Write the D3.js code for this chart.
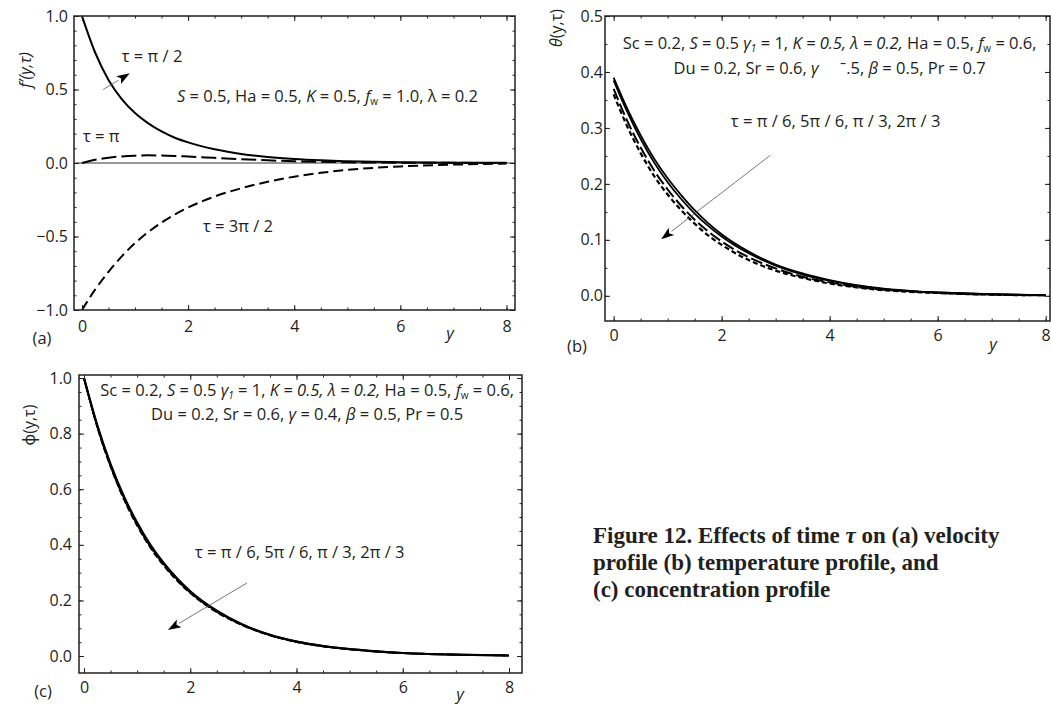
<!DOCTYPE html>
<html>
<head>
<meta charset="utf-8">
<script src="https://d3js.org/d3.v7.min.js"></script>
<style>
  body { margin: 0; background: #fff; }
  svg { display: block; }
  text { font-family: "Open Sans", "Noto Sans", sans-serif; fill: #231f20; }
  .caption { font-family: "Liberation Serif", "Times New Roman", serif; font-weight: bold; }
</style>
</head>
<body>
<svg id="chart" width="1051" height="704"></svg>
<script>
// y grid (similarity variable) shared by all profiles
const yGrid = [0, 0.25, 0.5, 0.75, 1, 1.25, 1.5, 1.75, 2, 2.5, 3, 3.5, 4, 4.5, 5, 5.5, 6, 7, 8];

// (a) velocity f'(y,tau)
const velHalfPi  = [1.0, 0.75, 0.565, 0.435, 0.34, 0.27, 0.215, 0.172, 0.14, 0.093, 0.062, 0.041, 0.027, 0.018, 0.012, 0.008, 0.005, 0.002, 0.001];
const velPi      = [0, 0.022, 0.036, 0.045, 0.05, 0.052, 0.051, 0.048, 0.044, 0.035, 0.026, 0.018, 0.012, 0.008, 0.005, 0.003, 0.002, 0.001, 0];
const vel3HalfPi = [-1.0, -0.86, -0.74, -0.635, -0.545, -0.47, -0.405, -0.35, -0.303, -0.228, -0.172, -0.128, -0.093, -0.067, -0.047, -0.033, -0.023, -0.011, -0.004];

// (b) temperature theta(y,tau)
const thetaPi6  = [0.39, 0.335, 0.287, 0.245, 0.21, 0.18, 0.153, 0.13, 0.11, 0.079, 0.056, 0.04, 0.028, 0.019, 0.013, 0.009, 0.006, 0.003, 0.001];
const theta5Pi6 = [0.385, 0.329, 0.28, 0.238, 0.203, 0.173, 0.147, 0.125, 0.106, 0.076, 0.054, 0.038, 0.027, 0.018, 0.012, 0.008, 0.006, 0.003, 0.001];
const thetaPi3  = [0.37, 0.313, 0.265, 0.224, 0.19, 0.161, 0.136, 0.115, 0.097, 0.069, 0.049, 0.034, 0.024, 0.016, 0.011, 0.008, 0.005, 0.002, 0.001];
const theta2Pi3 = [0.36, 0.303, 0.255, 0.214, 0.181, 0.153, 0.129, 0.108, 0.091, 0.064, 0.045, 0.032, 0.022, 0.015, 0.01, 0.007, 0.005, 0.002, 0.001];

// (c) concentration phi(y,tau)
const phiPi6  = [1.0, 0.83, 0.69, 0.575, 0.48, 0.4, 0.335, 0.28, 0.233, 0.163, 0.112, 0.076, 0.052, 0.036, 0.025, 0.017, 0.011, 0.005, 0.002];
const phi5Pi6 = [1.0, 0.825, 0.683, 0.567, 0.472, 0.393, 0.328, 0.274, 0.228, 0.159, 0.11, 0.075, 0.051, 0.035, 0.024, 0.016, 0.011, 0.005, 0.002];
const phiPi3  = [1.0, 0.828, 0.687, 0.571, 0.476, 0.397, 0.331, 0.277, 0.231, 0.161, 0.112, 0.076, 0.052, 0.036, 0.025, 0.017, 0.011, 0.005, 0.002];
const phi2Pi3 = [1.0, 0.822, 0.68, 0.563, 0.468, 0.389, 0.325, 0.271, 0.226, 0.157, 0.109, 0.074, 0.05, 0.034, 0.024, 0.016, 0.011, 0.005, 0.002];

// tick labels
const xTicks  = [0, 2, 4, 6, 8];
const yTicksA = [-1, -0.5, 0, 0.5, 1];
const yTicksB = [0, 0.1, 0.2, 0.3, 0.4, 0.5];
const yTicksC = [0, 0.2, 0.4, 0.6, 0.8, 1.0];

const captionLines = [
  [["Figure 12. Effects of time "], ["\u03c4", "i"], [" on (a) velocity"]],
  [["profile (b) temperature profile, and"]],
  [["(c) concentration profile"]]
];

const svg = d3.select("#chart");
svg.append("rect").attr("width", 1051).attr("height", 704).attr("fill", "#fff");

const ink = "#231f20";
const fmt1 = d3.format(".1f");
const FS = 16.5;
const NB = "\u00a0";

function frameAxes(g, x, y, yMajor, xMinor, yMinor, pad) {
  const [x0, x1] = x.range(), [y1, y0] = y.range();
  const style = sel => {
    sel.select(".domain").remove();
    sel.attr("font-size", 16).attr("font-family", null).attr("color", ink);
    sel.selectAll("line").attr("stroke-width", 1);
  };
  // minor ticks, all four sides
  g.append("g").attr("transform", `translate(0,${y1})`).call(d3.axisBottom(x).tickValues(xMinor).tickSize(-2.5).tickFormat("")).call(style);
  g.append("g").attr("transform", `translate(0,${y0})`).call(d3.axisTop(x).tickValues(xMinor).tickSize(-2.5).tickFormat("")).call(style);
  g.append("g").attr("transform", `translate(${x0},0)`).call(d3.axisLeft(y).tickValues(yMinor).tickSize(-2.5).tickFormat("")).call(style);
  g.append("g").attr("transform", `translate(${x1},0)`).call(d3.axisRight(y).tickValues(yMinor).tickSize(-2.5).tickFormat("")).call(style);
  // major ticks
  g.append("g").attr("transform", `translate(0,${y1})`)
    .call(d3.axisBottom(x).tickValues(xTicks).tickSize(-5).tickPadding(pad.x).tickFormat(d3.format("d"))).call(style);
  g.append("g").attr("transform", `translate(0,${y0})`)
    .call(d3.axisTop(x).tickValues(xTicks).tickSize(-5).tickFormat("")).call(style);
  g.append("g").attr("transform", `translate(${x0},0)`)
    .call(d3.axisLeft(y).tickValues(yMajor).tickSize(-5).tickPadding(pad.y).tickFormat(fmt1)).call(style);
  g.append("g").attr("transform", `translate(${x1},0)`)
    .call(d3.axisRight(y).tickValues(yMajor).tickSize(-5).tickFormat("")).call(style);
  g.append("rect").attr("x", x0).attr("y", y0).attr("width", x1 - x0).attr("height", y1 - y0)
    .attr("fill", "none").attr("stroke", ink).attr("stroke-width", 1.5);
}

function rich(g, x, y, segs, anchor, size) {
  const t = g.append("text").attr("x", x).attr("y", y)
    .attr("text-anchor", anchor || "start").attr("font-size", size || FS);
  let shift = 0;
  segs.forEach(([s, st]) => {
    st = st || "";
    const sp = t.append("tspan").text(s);
    if (st.includes("i")) sp.attr("font-style", "italic");
    const want = st.includes("sub") ? 3 : 0;
    if (want !== shift) { sp.attr("dy", want - shift); shift = want; }
    if (st.includes("sub")) sp.attr("font-size", 10);
  });
  return t;
}

function arrow(g, ax, ay, bx, by) {
  const ang = Math.atan2(by - ay, bx - ax), L = 13, w = 4.5;
  const cx = bx - L * Math.cos(ang), cy = by - L * Math.sin(ang);
  g.append("line").attr("x1", ax).attr("y1", ay).attr("x2", cx).attr("y2", cy)
    .attr("stroke", "#555").attr("stroke-width", 0.8);
  g.append("path")
    .attr("d", `M${bx},${by}L${cx + w * Math.sin(ang)},${cy - w * Math.cos(ang)}L${cx + 3 * Math.cos(ang)},${cy + 3 * Math.sin(ang)}L${cx - w * Math.sin(ang)},${cy + w * Math.cos(ang)}Z`)
    .attr("fill", "#000");
}

function curves(g, x, y, series, id) {
  const [x0, x1] = x.range(), [y1, y0] = y.range();
  g.append("clipPath").attr("id", id).append("rect")
    .attr("x", x0).attr("y", y0).attr("width", x1 - x0).attr("height", y1 - y0);
  const line = d3.line().x((d, i) => x(yGrid[i])).y(d => y(d)).curve(d3.curveMonotoneX);
  const cg = g.append("g").attr("clip-path", `url(#${id})`);
  series.forEach(s => {
    cg.append("path").datum(s.values).attr("d", line)
      .attr("fill", "none").attr("stroke", "#000").attr("stroke-width", s.w || 2)
      .attr("stroke-dasharray", s.dash || null);
  });
}

function yLabel(g, cx, cy, segs) {
  rich(g, 0, 0, segs, "middle", 16).attr("transform", `translate(${cx},${cy}) rotate(-90)`);
}

// ---------- panel (a) ----------
{
  const g = svg.append("g");
  const x = d3.scaleLinear().domain([-0.15, 8.16]).range([74, 515]);
  const y = d3.scaleLinear().domain([-1, 1]).range([310, 16]);
  g.append("line").attr("x1", 74).attr("x2", 515).attr("y1", y(0)).attr("y2", y(0))
    .attr("stroke", "#000").attr("stroke-width", 0.8);
  curves(g, x, y, [
    { values: velPi, dash: "15,5" },
    { values: vel3HalfPi, dash: "10,5" },
    { values: velHalfPi }
  ], "clipA");
  frameAxes(g, x, y, yTicksA, d3.range(0, 8.01, 0.5), d3.range(-1, 1.001, 0.1), { x: 11, y: 6 });
  yLabel(g, 31, 70, [["f\u2032(y,\u03c4)", "i"]]);
  rich(g, 450, 339, [["y", "i"]], "middle");
  rich(g, 42, 344, [["(a)"]], "middle");
  rich(g, x(0.75), y(0.69), [["\u03c4 = \u03c0 / 2"]]);
  rich(g, x(0.02), y(0.143), [["\u03c4 = \u03c0"]]);
  rich(g, x(2.28), y(-0.47), [["\u03c4 = 3\u03c0 / 2"]]);
  rich(g, x(1.79), y(0.415), [["S", "i"], [" = 0.5, Ha = 0.5, "], ["K", "i"], [" = 0.5, "], ["f", "i"], ["w", "sub"], [" = 1.0, \u03bb = 0.2"]]);
  arrow(g, x(0.4), y(0.5), x(0.9), y(0.61));
}

// ---------- panel (b) ----------
{
  const g = svg.append("g");
  const x = d3.scaleLinear().domain([-0.16, 8.08]).range([605, 1050]);
  const y = d3.scaleLinear().domain([-0.045, 0.5]).range([321, 16]);
  curves(g, x, y, [
    { values: theta2Pi3, dash: "5,3", w: 2.2 },
    { values: thetaPi3, dash: "12,4" },
    { values: theta5Pi6, w: 1.8 },
    { values: thetaPi6, w: 1.8 }
  ], "clipB");
  frameAxes(g, x, y, yTicksB, d3.range(0, 8.01, 0.5), d3.range(0, 0.501, 0.05), { x: 9, y: 2 });
  yLabel(g, 562, 28, [["\u03b8", "i"], ["(y,\u03c4)"]]);
  rich(g, 993, 350, [["y", "i"]], "middle");
  rich(g, 577, 352, [["(b)"]], "middle");
  rich(g, x(4.0), y(0.441), [["Sc = 0.2, "], ["S", "i"], [" = 0.5 "], ["\u03b3", "i"], ["1", "isub"], [" = 1, "], ["K", "i"], [" = 0.5, \u03bb = 0.2,", "i"], [" Ha = 0.5, "], ["f", "i"], ["w", "sub"], [" = 0.6,"]], "middle");
  rich(g, x(4.0), y(0.396), [["Du = 0.2, Sr = 0.6, "], ["\u03b3", "i"], [NB + NB + NB + NB + NB + "\u02c9.5, "], ["\u03b2", "i"], [" = 0.5, Pr = 0.7"]], "middle");
  rich(g, x(2.17), y(0.302), [["\u03c4 = \u03c0 / 6, 5\u03c0 / 6, \u03c0 / 3, 2\u03c0 / 3"]]);
  arrow(g, x(2.9), y(0.251), x(0.88), y(0.101));
}

// ---------- panel (c) ----------
{
  const g = svg.append("g");
  const x = d3.scaleLinear().domain([-0.094, 8.245]).range([79, 522]);
  const y = d3.scaleLinear().domain([-0.061, 1.011]).range([673, 375]);
  curves(g, x, y, [
    { values: phi2Pi3, dash: "6,3", w: 1.6 },
    { values: phi5Pi6, dash: "12,4", w: 1.6 },
    { values: phiPi3, w: 2 },
    { values: phiPi6, w: 2.2 }
  ], "clipC");
  frameAxes(g, x, y, yTicksC, d3.range(0, 8.01, 0.5), d3.range(0, 1.001, 0.05), { x: 9, y: 7 });
  yLabel(g, 35, 425, [["\u03d5(y,\u03c4)"]]);
  rich(g, 460, 700, [["y", "i"]], "middle");
  rich(g, 43, 697, [["(c)"]], "middle");
  rich(g, x(4.2), y(0.936), [["Sc = 0.2, "], ["S", "i"], [" = 0.5 "], ["\u03b3", "i"], ["1", "isub"], [" = 1, "], ["K", "i"], [" = 0.5, \u03bb = 0.2,", "i"], [" Ha = 0.5, "], ["f", "i"], ["w", "sub"], [" = 0.6,"]], "middle");
  rich(g, x(4.2), y(0.849), [["Du = 0.2, Sr = 0.6, "], ["\u03b3", "i"], [" = 0.4, "], ["\u03b2", "i"], [" = 0.5, Pr = 0.5"]], "middle");
  rich(g, x(2.09), y(0.353), [["\u03c4 = \u03c0 / 6, 5\u03c0 / 6, \u03c0 / 3, 2\u03c0 / 3"]]);
  arrow(g, x(3.07), y(0.263), x(1.58), y(0.094));
}

// ---------- caption ----------
captionLines.forEach((segs, i) => {
  rich(svg, 593, 543 + i * 27, segs, "start", 23).attr("class", "caption");
});
</script>
</body>
</html>
